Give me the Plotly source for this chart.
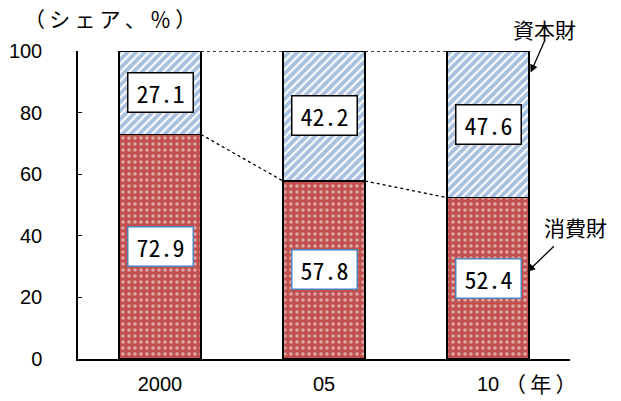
import plotly.graph_objects as go

# Share of imports by category (%), stacked per year
years = ["2000", "05", "10"]
consumer = [72.9, 57.8, 52.4]   # 消費財
capital = [27.1, 42.2, 47.6]    # 資本財
y_ticks = [0, 20, 40, 60, 80, 100]

RED = "#C0504D"
BLUE = "#4F81BD"
BAR_W = 0.5
xs = list(range(len(years)))

fig = go.Figure()

fig.add_trace(go.Bar(
    x=xs, y=consumer, width=BAR_W, name="消費財",
    marker=dict(
        color=RED,
        line=dict(color="black", width=1.5),
        pattern=dict(shape=".", fgcolor="white", bgcolor=RED, size=6, solidity=0.28),
    ),
))
fig.add_trace(go.Bar(
    x=xs, y=capital, width=BAR_W, name="資本財",
    marker=dict(
        color="white",
        line=dict(color="black", width=1.5),
        pattern=dict(shape="/", fgcolor=BLUE, bgcolor="white", size=6, solidity=0.65),
    ),
))

# Dotted connectors between adjacent bars (segment boundary and the 100% top)
tops = [c + k for c, k in zip(consumer, capital)]
for series in (consumer, tops):
    for i in range(len(xs) - 1):
        fig.add_trace(go.Scatter(
            x=[xs[i] + BAR_W / 2, xs[i + 1] - BAR_W / 2],
            y=[series[i], series[i + 1]],
            mode="lines", line=dict(color="black", width=1.3, dash="dot"),
            hoverinfo="skip", showlegend=False,
        ))

label_font = dict(family="Noto Sans Mono CJK JP, DejaVu Sans Mono, monospace", size=24, color="black")

# Value boxes centred in each segment
for i, (c, k) in enumerate(zip(consumer, capital)):
    fig.add_annotation(x=xs[i], y=c / 2, text=f"{c:.1f}", showarrow=False,
                       font=label_font, bgcolor="white", bordercolor=BLUE,
                       borderwidth=1.5, width=62, height=36)
    fig.add_annotation(x=xs[i], y=c + k / 2, text=f"{k:.1f}", showarrow=False,
                       font=label_font, bgcolor="white", bordercolor="black",
                       borderwidth=1.5, width=62, height=36)

name_font = dict(family="Noto Sans CJK JP, sans-serif", size=21, color="black")
last = xs[-1]

# Series names with pointer arrows to the last bar
fig.add_annotation(x=last + BAR_W / 2 + 0.01, y=tops[-1] - 7, text="", showarrow=True,
                   ax=15, ay=-34, arrowhead=2, arrowsize=1.2, arrowwidth=1.3, arrowcolor="black")
fig.add_annotation(xref="paper", yref="paper", x=1.0, y=1.0, xshift=-26, yshift=22,
                   xanchor="center", yanchor="middle",
                   text="資本財", showarrow=False, font=name_font)
fig.add_annotation(x=last + BAR_W / 2 - 0.01, y=consumer[-1] * 0.54, text="", showarrow=True,
                   ax=28, ay=-27, arrowhead=2, arrowsize=1.2, arrowwidth=1.3, arrowcolor="black")
fig.add_annotation(xref="paper", yref="y", x=1.0, y=consumer[-1] * 0.82, xshift=5,
                   xanchor="center", yanchor="middle",
                   text="消費財", showarrow=False, font=name_font)

# Axis unit captions
fig.add_annotation(xref="paper", yref="paper", x=0.0, y=1.0, xshift=32, yshift=33,
                   xanchor="center", yanchor="middle",
                   text="（\u2009シ\u2009ェ\u2009ア\u2009、\u2009％\u2009）", showarrow=False, font=name_font)
fig.add_annotation(xref="paper", yref="paper", x=1.0, y=0.0, xshift=-30, yshift=-24,
                   xanchor="center", yanchor="middle",
                   text="（\u2009年\u2009）", showarrow=False, font=name_font)

fig.update_layout(
    width=621, height=401,
    margin=dict(l=78, r=51, t=51, b=42, autoexpand=False),
    barmode="stack",
    showlegend=False,
    plot_bgcolor="white", paper_bgcolor="white",
    font=dict(family="Liberation Sans, Arial, sans-serif", size=20, color="black"),
)
fig.update_xaxes(
    range=[-0.5, len(years) - 0.5],
    tickvals=xs, ticktext=years,
    showline=True, linecolor="black", linewidth=1.5,
    ticks="", showgrid=False, zeroline=False,
    ticklabelstandoff=6, automargin=False,
)
fig.update_yaxes(
    range=[0, 100], tickvals=y_ticks,
    showline=True, linecolor="black", linewidth=1.5,
    ticks="inside", ticklen=4, tickcolor="black",
    showgrid=False, zeroline=False,
    ticklabelstandoff=30, automargin=False,
)

fig.write_html("out.html")
